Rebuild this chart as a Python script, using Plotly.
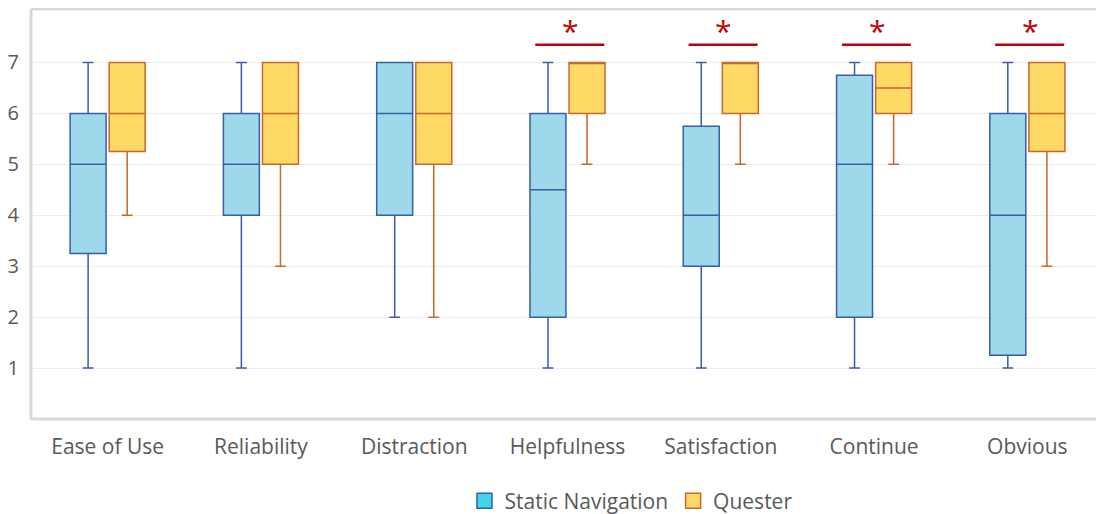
import plotly.graph_objects as go

categories = ["Ease of Use", "Reliability", "Distraction", "Helpfulness",
              "Satisfaction", "Continue", "Obvious"]

# Static Navigation
sn_low = [1, 1, 2, 1, 1, 1, 1]
sn_q1 = [3.25, 4, 4, 2, 3, 2, 1.25]
sn_med = [5, 5, 6, 4.5, 4, 5, 4]
sn_q3 = [6, 6, 7, 6, 5.75, 6.75, 6]
sn_high = [7, 7, 7, 7, 7, 7, 7]

# Quester
q_low = [4, 3, 2, 5, 5, 5, 3]
q_q1 = [5.25, 5, 5, 6, 6, 6, 5.25]
q_med = [6, 6, 6, 7, 7, 6.5, 6]
q_q3 = [7, 7, 7, 7, 7, 7, 7]
q_high = [7, 7, 7, 7, 7, 7, 7]

significant = ["Helpfulness", "Satisfaction", "Continue", "Obvious"]
sig_line_y = 7.35
sig_star_y = 7.62

TXT = "#595959"
FONT = "Open Sans"

fig = go.Figure()
fig.add_trace(go.Box(
    name="Static Navigation", x=categories, q1=sn_q1, median=sn_med, q3=sn_q3,
    lowerfence=sn_low, upperfence=sn_high, boxpoints=False,
    fillcolor="#9DD9EA", line=dict(color="#3A5DA8", width=1.5),
    whiskerwidth=0.3, showlegend=False))
fig.add_trace(go.Box(
    name="Quester", x=categories, q1=q_q1, median=q_med, q3=q_q3,
    lowerfence=q_low, upperfence=q_high, boxpoints=False,
    fillcolor="#FFD966", line=dict(color="#C8682A", width=1.5),
    whiskerwidth=0.3, showlegend=False))

# legend entries
fig.add_trace(go.Scatter(x=[None], y=[None], mode="markers", name="Static Navigation",
                         marker=dict(symbol="square", size=15, color="#3FD6E6",
                                     line=dict(color="#3A5DA8", width=1.5))))
fig.add_trace(go.Scatter(x=[None], y=[None], mode="markers", name="Quester",
                         marker=dict(symbol="square", size=15, color="#FFD966",
                                     line=dict(color="#C8682A", width=1.5))))

for c in significant:
    i = categories.index(c)
    fig.add_shape(type="line", xref="x", yref="y", x0=i - 0.21, x1=i + 0.24,
                  y0=sig_line_y, y1=sig_line_y, line=dict(color="#C00000", width=2.5))
    fig.add_annotation(x=i + 0.02, y=sig_star_y, text="*", showarrow=False,
                       font=dict(family=FONT, size=30, color="#C00000"),
                       xref="x", yref="y")

# chart frame (left, top, bottom)
frame = dict(color="#D9D9D9", width=3)
fig.add_shape(type="line", xref="paper", yref="paper", x0=0, x1=0, y0=0, y1=1, line=frame)
fig.add_shape(type="line", xref="paper", yref="paper", x0=0, x1=1, y0=1, y1=1, line=frame)
fig.add_shape(type="line", xref="paper", yref="paper", x0=0, x1=1, y0=0, y1=0, line=frame)

fig.update_layout(
    width=1096, height=506,
    margin=dict(l=23, r=0, t=1, b=95, autoexpand=False),
    paper_bgcolor="white", plot_bgcolor="white",
    boxmode="group", boxgap=0.49, boxgroupgap=0.08,
    font=dict(family=FONT, color=TXT),
    legend=dict(orientation="h", x=0.404, xanchor="left", y=-0.200, yanchor="middle",
                font=dict(family=FONT, size=21, color=TXT), itemwidth=30,
                tracegroupgap=0),
    xaxis=dict(type="category", categoryorder="array", categoryarray=categories,
               range=[-0.5, 6.5], showgrid=False, zeroline=False, automargin=False,
               ticks="outside", ticklen=9, tickcolor="rgba(0,0,0,0)",
               tickfont=dict(family=FONT, size=21, color=TXT)),
    yaxis=dict(range=[0, 8.05], tickvals=[1, 2, 3, 4, 5, 6, 7], automargin=False,
               showgrid=True, gridcolor="#EDEDED", gridwidth=1, zeroline=False,
               ticks="outside", ticklen=7, tickcolor="rgba(0,0,0,0)",
               tickfont=dict(family=FONT, size=20, color=TXT)),
)

fig.write_html("out.html")
